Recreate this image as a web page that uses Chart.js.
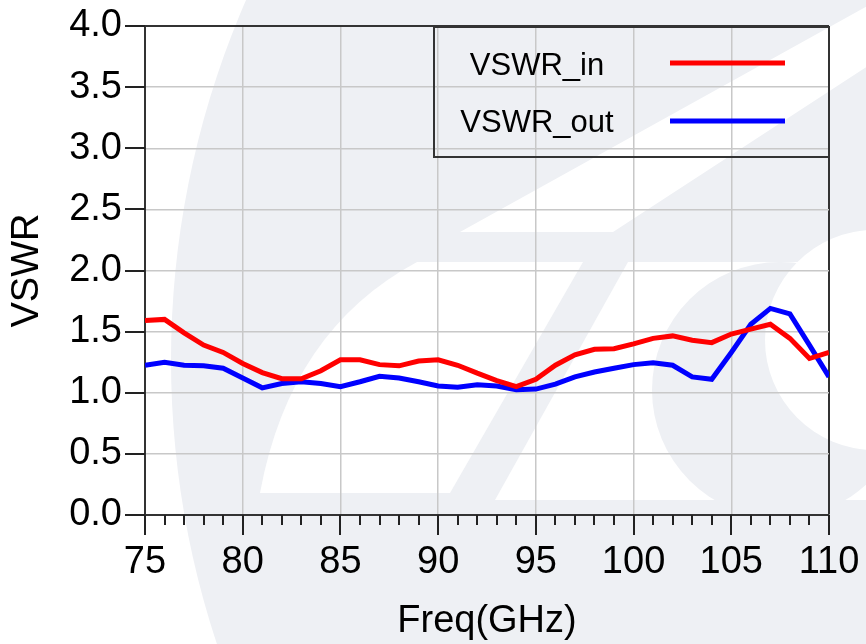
<!DOCTYPE html>
<html>
<head>
<meta charset="utf-8">
<title>VSWR</title>
<script src="https://cdn.jsdelivr.net/npm/chart.js@4.4.0/dist/chart.umd.min.js"></script>
<style>
    html, body { margin: 0; padding: 0; background: #fff; }
    #wrap { width: 866px; height: 644px; }
</style>
</head>
<body>
<div id="wrap"><canvas id="myChart" width="866" height="644"></canvas></div>
<script>
// 데이터
var freqs = [75, 76, 77, 78, 79, 80, 81, 82, 83, 84, 85, 86, 87, 88, 89, 90, 91, 92,
             93, 94, 95, 96, 97, 98, 99, 100, 101, 102, 103, 104, 105, 106, 107, 108, 109, 110];
var vswrIn = [1.59, 1.60, 1.49, 1.39, 1.33, 1.24, 1.165, 1.115, 1.115, 1.18, 1.27, 1.27, 1.23, 1.22, 1.26, 1.27, 1.225, 1.16,
              1.10, 1.05, 1.11, 1.225, 1.31, 1.355, 1.36, 1.40, 1.445, 1.465, 1.43, 1.41, 1.48, 1.52, 1.56, 1.445, 1.28, 1.33];
var vswrOut = [1.225, 1.25, 1.225, 1.22, 1.20, 1.12, 1.04, 1.075, 1.09, 1.075, 1.05, 1.09, 1.135, 1.12, 1.09, 1.055, 1.045, 1.065,
               1.055, 1.025, 1.03, 1.07, 1.13, 1.17, 1.20, 1.23, 1.245, 1.225, 1.13, 1.11, 1.33, 1.56, 1.69, 1.645, 1.39, 1.13];
var xTicks = [75, 80, 85, 90, 95, 100, 105, 110];
var yTicks = [0, 0.5, 1.0, 1.5, 2.0, 2.5, 3.0, 3.5, 4.0];
var seriesNames = ['VSWR_in', 'VSWR_out'];

var FONT = "'Liberation Sans', Arial, sans-serif";
var WM = '#eef0f4';

function toPoints(ys) {
    return freqs.map(function (f, i) { return { x: f, y: ys[i] }; });
}

// 배경 워터마크 (대략적인 모양)
var watermark = {
    id: 'watermark',
    beforeDraw: function (chart) {
        var c = chart.ctx;
        c.save();
        c.fillStyle = '#fff';
        c.fillRect(0, 0, chart.width, chart.height);

        c.fillStyle = WM;
        c.beginPath();
        c.arc(1072, 360, 901, 0, Math.PI * 2);
        c.fill();

        c.fillStyle = '#fff';
        c.beginPath();
        c.moveTo(260, 493);
        c.lineTo(450, 493);
        c.lineTo(583, 262);
        c.lineTo(417, 262);
        c.quadraticCurveTo(290, 330, 260, 493);
        c.fill();

        c.beginPath();
        c.moveTo(495, 500);
        c.lineTo(628, 262);
        c.lineTo(866, 262);
        c.lineTo(866, 500);
        c.fill();

        c.beginPath();
        c.moveTo(460, 232);
        c.lineTo(613, 232);
        c.lineTo(900, 45);
        c.lineTo(900, -12);
        c.fill();

        c.fillStyle = WM;
        c.beginPath();
        c.arc(780, 390, 128, 0, Math.PI * 2);
        c.fill();

        c.fillStyle = '#fff';
        c.beginPath();
        c.arc(875, 340, 110, 0, Math.PI * 2);
        c.fill();
        c.restore();
    }
};

// 눈금 표시 (주/보조)
var tickMarks = {
    id: 'tickMarks',
    afterDraw: function (chart) {
        var c = chart.ctx;
        var xs = chart.scales.x, ys = chart.scales.y;
        var a = chart.chartArea;
        c.save();
        c.strokeStyle = '#222';
        c.lineWidth = 2;
        c.beginPath();
        freqs.forEach(function (f) {
            var px = Math.round(xs.getPixelForValue(f));
            var len = xTicks.indexOf(f) >= 0 ? 20 : 10;
            c.moveTo(px, a.bottom);
            c.lineTo(px, a.bottom + len);
        });
        yTicks.forEach(function (v) {
            var py = Math.round(ys.getPixelForValue(v));
            c.moveTo(a.left - 20, py);
            c.lineTo(a.left, py);
        });
        c.stroke();
        c.restore();
    }
};

// 범례 박스
var legendBox = {
    id: 'legendBox',
    afterDatasetsDraw: function (chart) {
        var c = chart.ctx;
        var a = chart.chartArea;
        var ds = chart.data.datasets;
        c.save();
        c.strokeStyle = '#333';
        c.lineWidth = 2;
        c.strokeRect(434, a.top + 1, a.right - 434, 130);
        c.font = '31px ' + FONT;
        c.fillStyle = '#000';
        c.textAlign = 'center';
        c.textBaseline = 'alphabetic';
        var rows = [{ text: 75, line: 63 }, { text: 132, line: 121 }];
        ds.forEach(function (d, i) {
            c.fillText(d.label, 537, rows[i].text);
            c.strokeStyle = d.borderColor;
            c.lineWidth = 5;
            c.beginPath();
            c.moveTo(670, rows[i].line);
            c.lineTo(785, rows[i].line);
            c.stroke();
        });
        c.restore();
    }
};

var ctx = document.getElementById('myChart').getContext('2d');
var myChart = new Chart(ctx, {
    type: 'line',
    data: {
        datasets: [{
            label: seriesNames[0],
            data: toPoints(vswrIn),
            borderColor: '#ff0000',
            borderWidth: 5,
            pointRadius: 0,
            tension: 0
        }, {
            label: seriesNames[1],
            data: toPoints(vswrOut),
            borderColor: '#0000ff',
            borderWidth: 5,
            pointRadius: 0,
            tension: 0
        }]
    },
    options: {
        responsive: false,
        animation: false,
        layout: { padding: { top: 26, right: 37, left: 0, bottom: 0 } },
        plugins: {
            legend: { display: false },
            tooltip: { enabled: false }
        },
        scales: {
            x: {
                type: 'linear',
                min: 75,
                max: 110,
                afterFit: function (s) {
                    s.height = 129;
                    s.paddingLeft = 0;
                    s.paddingRight = 0;
                },
                afterBuildTicks: function (s) {
                    s.ticks = xTicks.map(function (v) { return { value: v }; });
                },
                ticks: {
                    color: '#000',
                    padding: 25,
                    maxRotation: 0,
                    font: { family: FONT, size: 38 }
                },
                grid: {
                    drawTicks: false,
                    color: function (c) { return c.tick && c.tick.value === 110 ? '#333' : '#c8c8c8'; },
                    lineWidth: function (c) { return c.tick && c.tick.value === 110 ? 2 : 1.5; }
                },
                border: { color: '#333', width: 2 },
                title: {
                    display: true,
                    text: 'Freq(GHz)',
                    color: '#000',
                    padding: 0,
                    font: { family: FONT, size: 38 }
                }
            },
            y: {
                min: 0,
                max: 4,
                afterFit: function (s) {
                    s.width = 145;
                    s.paddingTop = 0;
                    s.paddingBottom = 0;
                },
                afterBuildTicks: function (s) {
                    s.ticks = yTicks.map(function (v) { return { value: v }; });
                },
                ticks: {
                    color: '#000',
                    padding: 23,
                    font: { family: FONT, size: 38 },
                    callback: function (v) { return Number(v).toFixed(1); }
                },
                grid: {
                    drawTicks: false,
                    color: function (c) { return c.tick && c.tick.value === 4 ? '#333' : '#c8c8c8'; },
                    lineWidth: function (c) { return c.tick && c.tick.value === 4 ? 2 : 1.5; }
                },
                border: { color: '#333', width: 2 },
                title: {
                    display: true,
                    text: 'VSWR',
                    color: '#000',
                    padding: { top: 5, bottom: 0 },
                    font: { family: FONT, size: 38 }
                }
            }
        }
    },
    plugins: [watermark, tickMarks, legendBox]
});
</script>
</body>
</html>
